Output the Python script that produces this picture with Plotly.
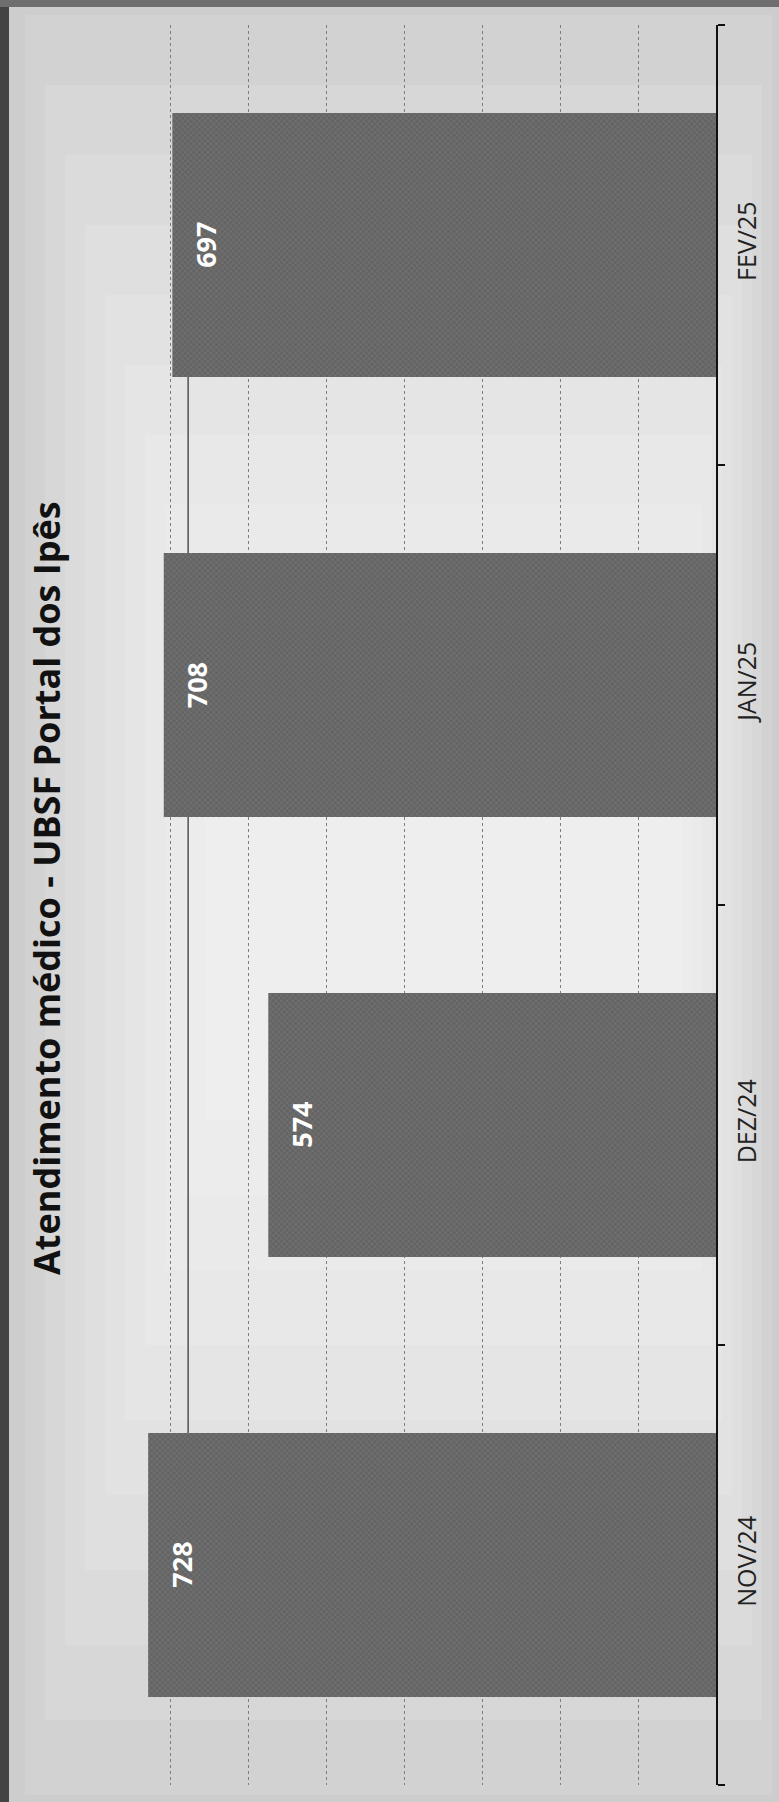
import plotly.graph_objects as go

# ---- data ----
months = ["NOV/24", "DEZ/24", "JAN/25", "FEV/25"]
atendimentos = [728, 574, 708, 697]
title_text = "Atendimento médico - UBSF Portal dos Ipês"

W, H = 779, 1802
ML, MR, MT, MB = 92, 63, 25, 17
PW = W - ML - MR
PH = H - MT - MB


def px_x(px):
    return (px - ML) / PW


def px_y(py):
    return (H - MB - py) / PH


mean_val = sum(atendimentos) / len(atendimentos)

fig = go.Figure()
fig.add_trace(go.Bar(
    y=months,
    x=atendimentos,
    orientation="h",
    marker=dict(
        color="#646464",
        line=dict(width=0),
        pattern=dict(shape="x", fgcolor="#8e8e8e", size=4, solidity=0.3),
    ),
    hoverinfo="skip",
))

shapes = []
# soft photographic lighting (decorative)
for i in range(10):
    shapes.append(dict(
        type="rect", xref="paper", yref="paper", layer="below",
        x0=px_x(25 + i * 20), x1=px_x(772 - i * 10),
        y0=px_y(1795 - i * 75), y1=px_y(15 + i * 70),
        fillcolor="white", opacity=0.115, line=dict(width=0),
    ))
# dark photo edges
shapes.append(dict(type="rect", xref="paper", yref="paper", layer="above",
                   x0=px_x(0), x1=px_x(9), y0=px_y(H), y1=px_y(0),
                   fillcolor="#444444", line=dict(width=0)))
shapes.append(dict(type="rect", xref="paper", yref="paper", layer="above",
                   x0=px_x(0), x1=px_x(W), y0=px_y(7), y1=px_y(0),
                   fillcolor="#6e6e6e", line=dict(width=0)))
# average line (behind the bars)
shapes.append(dict(type="line", xref="x", yref="y", layer="between",
                   x0=mean_val, x1=mean_val, y0=0, y1=len(months) - 1,
                   line=dict(color="#5a5a5a", width=1.6)))

annotations = [dict(
    text="<b>" + title_text + "</b>",
    xref="paper", yref="paper",
    x=px_x(46), y=px_y(888),
    textangle=-90, showarrow=False,
    xanchor="center", yanchor="middle",
    font=dict(size=36, family="Open Sans", color="#111111"),
)]
# value labels near the end of each bar
for m, v in zip(months, atendimentos):
    annotations.append(dict(
        text="<b>" + str(v) + "</b>",
        x=v, y=m, xref="x", yref="y",
        xanchor="left", yanchor="middle",
        xshift=12,
        textangle=-90, showarrow=False,
        font=dict(size=27, family="Open Sans", color="white"),
    ))

fig.update_layout(
    width=W, height=H,
    margin=dict(l=ML, r=MR, t=MT, b=MB),
    paper_bgcolor="#cdcdcd",
    plot_bgcolor="rgba(0,0,0,0)",
    bargap=0.4,
    showlegend=False,
    shapes=shapes,
    annotations=annotations,
    font=dict(family="Open Sans", color="#222222"),
    xaxis=dict(
        range=[800, 0],
        dtick=100,
        showgrid=True,
        gridcolor="#7e7e7e",
        griddash="dot",
        gridwidth=1,
        showticklabels=False,
        zeroline=False,
        showline=False,
        ticks="",
    ),
    yaxis=dict(
        side="right",
        categoryorder="array",
        categoryarray=months,
        showline=True,
        linecolor="#111111",
        linewidth=1.5,
        ticks="outside",
        tickson="boundaries",
        ticklen=7,
        tickwidth=1.5,
        tickcolor="#111111",
        tickangle=-90,
        tickfont=dict(size=25, family="Open Sans", color="#222222"),
        ticklabelstandoff=8,
        showgrid=False,
        zeroline=False,
    ),
)

fig.write_html("out.html", config={"displayModeBar": False},
               post_script="document.body.style.margin='0';")
